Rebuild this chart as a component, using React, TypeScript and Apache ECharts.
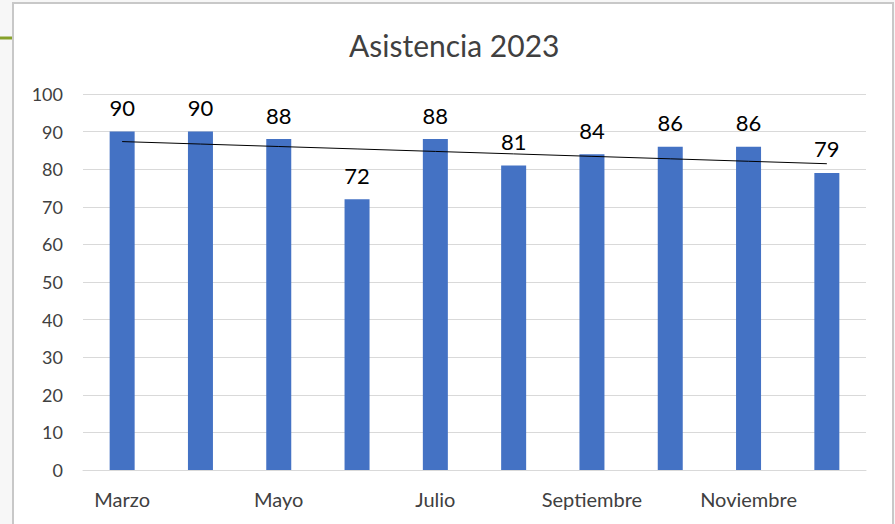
import React, { useEffect, useRef } from "react";
import * as echarts from "echarts";

const categories = ["Marzo", "Abril", "Mayo", "Junio", "Julio", "Agosto", "Septiembre", "Octubre", "Noviembre", "Diciembre"];
const values = [90, 90, 88, 72, 88, 81, 84, 86, 86, 79];
const yTicks = { min: 0, max: 100, interval: 10 };
const titleText = "Asistencia 2023";

function linearTrend(ys: number[]): number[] {
  const n = ys.length;
  const xs = ys.map((_, i) => i + 1);
  const mx = xs.reduce((a, b) => a + b, 0) / n;
  const my = ys.reduce((a, b) => a + b, 0) / n;
  let sxy = 0, sxx = 0;
  for (let i = 0; i < n; i++) {
    sxy += (xs[i] - mx) * (ys[i] - my);
    sxx += (xs[i] - mx) * (xs[i] - mx);
  }
  const b = sxy / sxx;
  const a = my - b * mx;
  return xs.map((x) => +(a + b * x).toFixed(3));
}

export default function App() {
  const ref = useRef<HTMLDivElement>(null);
  useEffect(() => {
    if (!ref.current) return;
    const chart = echarts.init(ref.current, null, { renderer: "svg" });
    const font = "Lato, 'Open Sans', sans-serif";
    chart.setOption({
      animation: false,
      backgroundColor: "#f7f7f7",
      textStyle: { fontFamily: font },
      graphic: [
        {
          type: "rect",
          shape: { x: 13, y: 3, width: 880, height: 540 },
          style: { fill: "#ffffff", stroke: "#c8c8c8", lineWidth: 2 },
          z: -10,
        },
        {
          type: "line",
          shape: { x1: 0, y1: 38, x2: 12, y2: 38 },
          style: { stroke: "#86a12a", lineWidth: 3 },
        },
      ],
      title: {
        text: titleText,
        left: 344,
        top: 25,
        textStyle: { fontFamily: font, fontSize: 30, fontWeight: "normal", color: "#404040" },
      },
      grid: { left: 83, right: 29, top: 94, bottom: 54, containLabel: false },
      xAxis: {
        type: "category",
        data: categories,
        axisLine: { show: true, lineStyle: { color: "#d9d9d9", width: 1 } },
        axisTick: { show: false },
        axisLabel: { interval: 1, color: "#404040", fontSize: 20, margin: 19, fontFamily: font },
      },
      yAxis: {
        type: "value",
        min: yTicks.min,
        max: yTicks.max,
        interval: yTicks.interval,
        axisLine: { show: false },
        axisTick: { show: false },
        splitLine: { lineStyle: { color: "#d9d9d9", width: 1 } },
        axisLabel: { color: "#404040", fontSize: 18, margin: 20, fontFamily: font },
      },
      series: [
        {
          type: "bar",
          data: values,
          barWidth: 25,
          itemStyle: { color: "#4472C4" },
          label: { show: true, position: "top", distance: 13, color: "#000000", fontSize: 22, fontFamily: font },
        },
        {
          type: "line",
          data: linearTrend(values),
          symbol: "none",
          lineStyle: { color: "#000000", width: 1 },
          z: 5,
          silent: true,
        },
      ],
    });
    return () => chart.dispose();
  }, []);
  return (
    <div
      ref={ref}
      style={{ position: "fixed", left: 0, top: 0, width: 895, height: 524 }}
    />
  );
}
